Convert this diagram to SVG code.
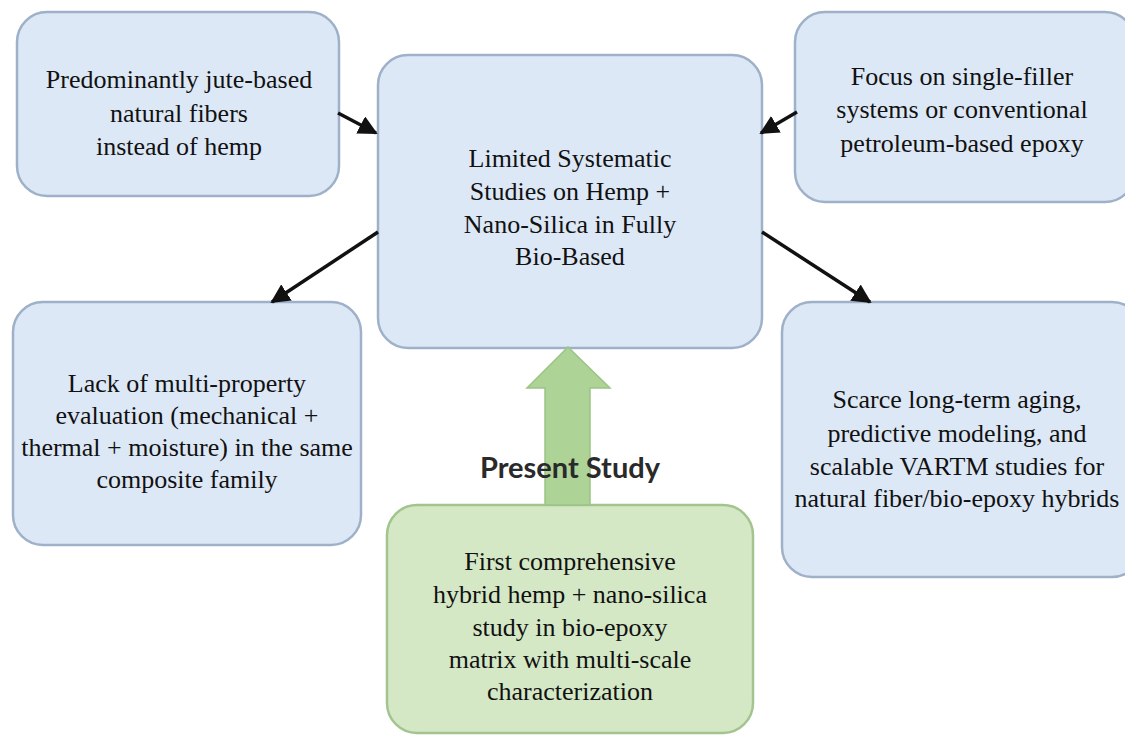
<svg xmlns="http://www.w3.org/2000/svg" width="1125" height="736" viewBox="0 0 1125 736">
<style>
.box{fill:#dde8f6;stroke:#9fb1c9;stroke-width:2.5}
.gbox{fill:#d4e8c6;stroke:#a3c48f;stroke-width:2.5}
.t{font-family:'Liberation Serif',serif;font-size:26px;fill:#111;text-anchor:middle}
.conn{stroke:#111;stroke-width:3.5;fill:none;marker-end:url(#ah)}
.lbl{font-family:Lato,'Open Sans',sans-serif;font-weight:bold;font-size:29px;fill:#2a2a2a;text-anchor:middle}
</style>
<defs>
<marker id="ah" viewBox="0 0 10 10" refX="9" refY="5" markerWidth="5.5" markerHeight="5.5" orient="auto" markerUnits="strokeWidth">
<path d="M0,0 L10,5 L0,10 z" fill="#111"/>
</marker>
</defs>
<rect width="1125" height="736" fill="#ffffff"/>
<g id="node-jute">
<rect class="box" x="17" y="12" width="322" height="184" rx="30"/>
<text class="t" x="179" y="88">Predominantly jute-based</text>
<text class="t" x="179" y="122">natural fibers</text>
<text class="t" x="179" y="155">instead of hemp</text>
</g>
<g id="node-center">
<rect class="box" x="378" y="55" width="384" height="293" rx="30"/>
<text class="t" x="570" y="167">Limited Systematic</text>
<text class="t" x="570" y="200">Studies on Hemp +</text>
<text class="t" x="570" y="233">Nano-Silica in Fully</text>
<text class="t" x="570" y="265">Bio-Based</text>
</g>
<g id="node-filler">
<rect class="box" x="795" y="12" width="340" height="190" rx="30"/>
<text class="t" x="962" y="85">Focus on single-filler</text>
<text class="t" x="962" y="118">systems or conventional</text>
<text class="t" x="962" y="152">petroleum-based epoxy</text>
</g>
<g id="node-lack">
<rect class="box" x="13" y="302" width="348" height="243" rx="30"/>
<text class="t" x="187" y="392">Lack of multi-property</text>
<text class="t" x="187" y="424">evaluation (mechanical +</text>
<text class="t" x="187" y="456">thermal + moisture) in the same</text>
<text class="t" x="187" y="488">composite family</text>
</g>
<g id="node-scarce">
<rect class="box" x="782" y="302" width="360" height="275" rx="30"/>
<text class="t" x="957" y="408">Scarce long-term aging,</text>
<text class="t" x="957" y="442">predictive modeling, and</text>
<text class="t" x="957" y="475">scalable VARTM studies for</text>
<text class="t" x="957" y="507">natural fiber/bio-epoxy hybrids</text>
</g>
<g id="node-present">
<rect class="gbox" x="387" y="505" width="366" height="228" rx="30"/>
<text class="t" x="570" y="570">First comprehensive</text>
<text class="t" x="570" y="603">hybrid hemp + nano-silica</text>
<text class="t" x="570" y="636">study in bio-epoxy</text>
<text class="t" x="570" y="668">matrix with multi-scale</text>
<text class="t" x="570" y="700">characterization</text>
</g>
<g id="connectors">
<line class="conn" x1="338" y1="113" x2="376" y2="133"/>
<line class="conn" x1="797" y1="112" x2="761" y2="133"/>
<line class="conn" x1="378" y1="232" x2="272" y2="302"/>
<line class="conn" x1="762" y1="232" x2="870" y2="302"/>
<path d="M545,505 L545,388 L527,388 L568,347 L610,388 L590,388 L590,505 z" fill="#aed397" stroke="#9cc486" stroke-width="1.5"/>
<text class="lbl" x="570" y="478">Present Study</text>
</g>
</svg>
